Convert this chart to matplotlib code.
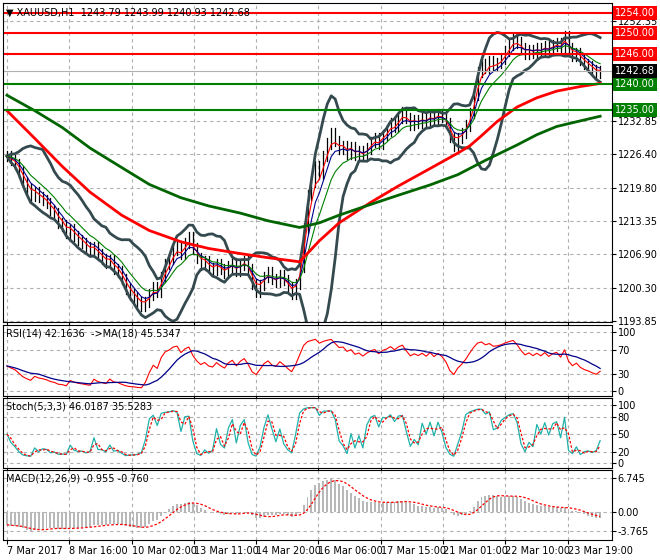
import numpy as np
import matplotlib
matplotlib.use("Agg")
import matplotlib.pyplot as plt

close = [1226.0,1225.2,1224.5,1223.0,1221.0,1219.5,1218.2,1219.0,1218.0,1217.5,1216.8,
1215.5,1214.8,1213.0,1212.5,1211.0,1211.8,1210.5,1209.6,1209.0,1208.2,
1207.5,1208.3,1206.8,1206.0,1205.2,1205.8,1204.0,1203.5,1202.0,1200.2,
1199.0,1198.5,1197.5,1196.8,1197.5,1199.0,1200.5,1199.5,1202.5,1205.0,
1206.0,1207.8,1208.5,1207.0,1209.0,1210.2,1208.0,1206.2,1204.8,1205.5,
1204.2,1203.8,1205.0,1204.0,1203.2,1204.5,1205.2,1203.6,1204.8,1205.6,
1204.0,1201.0,1199.5,1200.8,1202.5,1203.4,1202.0,1201.5,1202.8,1201.8,
1200.5,1199.2,1201.0,1204.5,1212.0,
1218.5,1221.0,1224.0,1222.5,1226.0,1228.5,1230.5,1229.0,1227.5,1228.0,
1226.5,1227.8,1226.2,1227.0,1226.0,1227.5,1228.8,1229.6,1228.5,1230.2,
1231.0,1232.5,1231.8,1233.5,1234.6,1233.4,1232.2,1233.0,1232.6,1233.4,
1232.8,1234.0,1233.2,1234.2,1233.6,1232.5,1229.8,1228.0,1229.5,1230.5,
1232.0,1234.5,1238.0,1242.5,1244.0,1243.2,1244.5,1243.8,1244.2,1245.0,
1246.5,1247.8,1249.0,1248.2,1247.0,1246.0,1246.8,1246.2,1247.0,1246.5,
1247.5,1246.8,1247.6,1248.0,1247.2,1249.5,1247.0,1245.5,1246.2,1244.8,
1244.0,1243.5,1242.8,1242.2,1242.68]

ma_slow_idx = [0, 7, 14, 21, 29, 36, 44, 51, 59, 66, 74, 79, 84, 92, 99, 107, 114, 117, 120, 124, 129, 134, 139, 145, 150]
ma_slow_red = [1234.9,1229.5,1224.0,1219.0,1214.5,1211.5,1209.3,1208.0,1207.0,1206.2,1205.4,1209.5,1213.0,1217.0,1220.2,1223.6,1226.6,1228.0,1230.0,1232.8,1235.6,1237.4,1238.7,1239.6,1240.2]
ma200_idx = [0, 7, 14, 21, 29, 36, 44, 51, 59, 66, 74, 79, 84, 92, 99, 107, 114, 121, 129, 134, 139, 145, 150]
ma200_green = [1237.9,1234.9,1231.6,1227.6,1223.8,1220.5,1217.9,1216.3,1214.9,1213.4,1212.1,1213.0,1214.5,1216.6,1218.4,1220.4,1222.4,1225.2,1228.2,1230.2,1231.8,1232.9,1233.8]

res_levels = [1254.0, 1250.0, 1246.0]
sup_levels = [1240.0, 1235.0]
price_ticks = [1252.35, 1232.85, 1226.40, 1219.80, 1213.35, 1206.90, 1200.30, 1193.85]
tick_labels_x = ["7 Mar 2017", "8 Mar 16:00", "10 Mar 02:00", "13 Mar 11:00", "14 Mar 20:00",
                 "16 Mar 06:00", "17 Mar 15:00", "21 Mar 01:00", "22 Mar 10:00", "23 Mar 19:00"]
tick_pos_x = [0, 15.75, 31.5, 47.25, 63, 78.75, 94.5, 110.25, 126, 141.75]

c = np.array(close); n = len(c); x = np.arange(n)

def ema(a, p, seed=None):
    out = np.empty_like(a, dtype=float); k = 2/(p+1)
    out[0] = a[0] if seed is None else seed
    for i in range(1, len(a)): out[i] = a[i]*k + out[i-1]*(1-k)
    return out
def sma(a, p):
    return np.array([a[max(0,i-p+1):i+1].mean() for i in range(len(a))])
def sstd(a, p):
    return np.array([a[max(0,i-p+1):i+1].std() for i in range(len(a))])

W, H = 660, 560
fig = plt.figure(figsize=(6.6, 5.6), dpi=100)
L, R = 3/W, 612/W
def ax_at(top, bot):
    return fig.add_axes([L, 1-bot/H, R-L, (bot-top)/H])
ax = ax_at(3, 322); ar = ax_at(325, 396); ast = ax_at(398, 468); am = ax_at(470, 540)

for a in (ax, ar, ast, am):
    a.set_xlim(-1, 153)
    a.set_xticks(tick_pos_x)
    a.grid(True, color="#b0b0b0", ls=(0, (3, 3)), lw=0.8)
    a.yaxis.tick_right()
    a.tick_params(labelsize=7, length=3, pad=1)
    for s in a.spines.values(): s.set_linewidth(0.8)
    a.set_axisbelow(True)
for a in (ax, ar, ast):
    a.set_xticklabels([])
am.set_xticklabels(tick_labels_x, fontsize=7, ha="left")

# main
ax.set_ylim(1193.65, 1255.9)
ax.set_yticks(price_ticks); ax.set_yticklabels([f"{v:.2f}" for v in price_ticks])
opn = np.r_[c[0], c[:-1]]
hi = np.maximum(opn, c) + 1.0
lo = np.minimum(opn, c) - 1.0
for i in range(n):
    ax.plot([i, i], [lo[i], hi[i]], color="black", lw=0.9)
mid = sma(c, 10); sd = sstd(c, 10)
for b in (mid + 2*sd, mid - 2*sd):
    ax.plot(x, b, color="#354a4f", lw=2)
ax.plot(x, ema(c, 3), color="red", lw=0.8)
ax.plot(x, ema(c, 5), color="#00008b", lw=0.8)
ax.plot(x, ema(c, 9), color="green", lw=0.8)
ax.plot(ma_slow_idx, ma_slow_red, color="red", lw=2)
ax.plot(ma200_idx, ma200_green, color="#006400", lw=2)
for v in res_levels:
    ax.axhline(v, color="red", lw=1.5)
    ax.text(1.005, v, f"{v:.2f}", transform=ax.get_yaxis_transform(), fontsize=7, color="white",
            va="center", bbox=dict(boxstyle="square,pad=0.2", fc="red", ec="none"))
for v in sup_levels:
    ax.axhline(v, color="green", lw=1.5)
    ax.text(1.005, v, f"{v:.2f}", transform=ax.get_yaxis_transform(), fontsize=7, color="white",
            va="center", bbox=dict(boxstyle="square,pad=0.2", fc="green", ec="none"))
ax.axhline(close[-1], color="#b0b0b0", lw=0.8)
ax.text(1.005, close[-1], f"{close[-1]:.2f}", transform=ax.get_yaxis_transform(), fontsize=7,
        color="white", va="center", bbox=dict(boxstyle="square,pad=0.2", fc="black", ec="none"))
ax.text(0.005, 0.985, "▼ XAUUSD,H1  1243.79 1243.99 1240.93 1242.68", transform=ax.transAxes,
        fontsize=7, va="top")

# RSI
d = np.diff(c, prepend=c[0]); up = np.clip(d, 0, None); dn = np.clip(-d, 0, None)
au = ema(up, 14, seed=0.6); ad = ema(dn, 14, seed=0.8)
rsi = 100*au/(au+ad)
ar.plot(x, rsi, color="red", lw=0.8)
ar.plot(x, sma(rsi, 9), color="#00008b", lw=0.9)
ar.set_ylim(-8, 112); ar.set_yticks([0, 30, 70, 100])
ar.text(0.005, 0.95, "RSI(14) 42.1636  ->MA(18) 45.5347", transform=ar.transAxes, fontsize=7, va="top")

# Stoch
k = np.array([(c[i]-lo[max(0,i-3):i+1].min())/(hi[max(0,i-3):i+1].max()-lo[max(0,i-3):i+1].min())*100 for i in range(n)])
dd = sma(k, 2)
ast.plot(x, k, color="#20b2aa", lw=0.9)
ast.plot(x, dd, color="red", lw=0.9, ls=(0, (2, 1.5)))
ast.set_ylim(-8, 112); ast.set_yticks([0, 20, 50, 80, 100])
ast.text(0.005, 0.95, "Stoch(5,3,3) 46.0187 35.5283", transform=ast.transAxes, fontsize=7, va="top")

# MACD
macd = ema(c, 6, seed=1229.0) - ema(c, 13, seed=1231.5); sig = sma(macd, 5)
am.bar(x, macd, width=0.5, color="#b8b8b8")
am.plot(x, sig, color="red", lw=0.9, ls=(0, (2, 1.5)))
am.set_ylim(-5.5, 8.3); am.set_yticks([-3.765, 0, 6.745]); am.set_yticklabels(["-3.765", "0.00", "6.745"])
am.text(0.005, 0.95, "MACD(12,26,9) -0.955 -0.760", transform=am.transAxes, fontsize=7, va="top")

fig.savefig("out.png", dpi=100, facecolor="white")
